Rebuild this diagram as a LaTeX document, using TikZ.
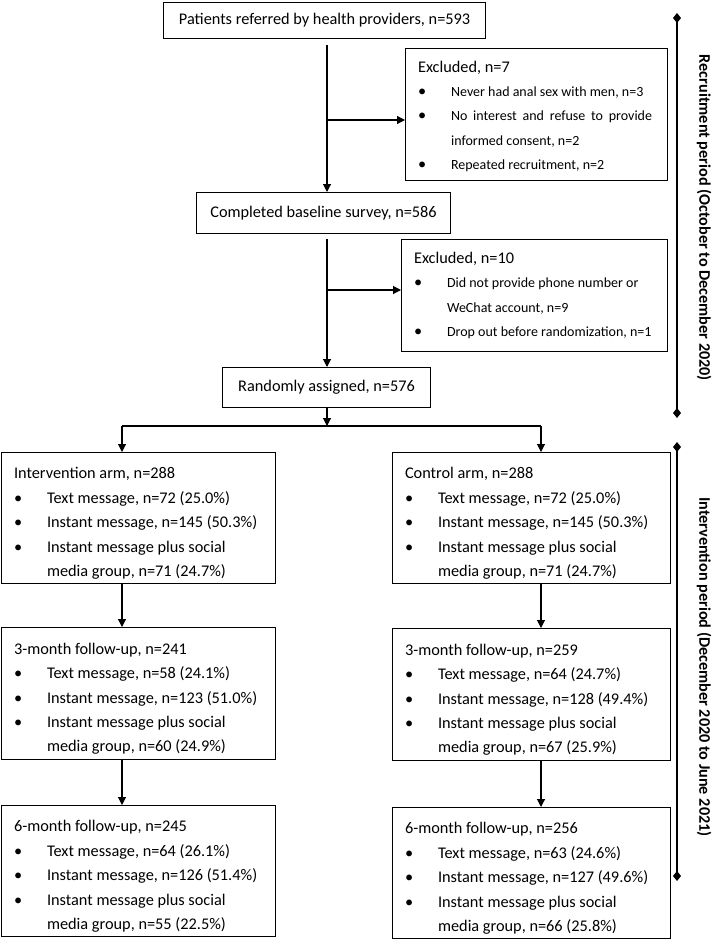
\documentclass[tikz,border=0pt]{standalone}
\usepackage{fontspec}
\setmainfont{Carlito}
\usetikzlibrary{arrows.meta}
\newcommand{\boxfont}{\fontsize{16.3}{24.4}\selectfont}
\newcommand{\exfont}{\fontsize{14}{24.4}\selectfont}
\newcommand{\titlefont}{\fontsize{16.3}{20}\selectfont}
\newcommand{\bul}[1]{\makebox[33pt][l]{{\boxfont\textbullet}}\mbox{#1}}
\newcommand{\ind}[1]{\hspace*{33pt}\mbox{#1}}
\newcommand{\headline}[1]{\rule{0pt}{22pt}#1}
\tikzset{
  box/.style={draw, line width=1.1pt, anchor=north west, inner xsep=12.5pt, inner ysep=0pt, align=flush left, font=\boxfont},
  titlebox/.style={draw, line width=1.1pt, anchor=north west, inner sep=0pt, align=center, font=\titlefont},
  arr/.style={line width=1.1pt, -{Triangle[length=8pt,width=8pt]}},
  bar/.style={line width=1.6pt, {Diamond[length=10pt,width=8pt]}-{Diamond[length=10pt,width=8pt]}},
  period/.style={rotate=-90, font=\fontsize{16.2}{18}\selectfont\bfseries}
}
\begin{document}
\begin{tikzpicture}[x=1pt,y=-1pt]
\useasboundingbox (0,0) rectangle (712,939);
% recruitment
\node[titlebox, minimum width=322pt, minimum height=36pt] (referred) at (163,2) {Patients referred by health providers, n=593};
\node[box, text width=237pt, minimum height=132pt] (excl1) at (405,48) {\rule{0pt}{15pt}Excluded, n=7\\
\exfont\bul{Never had anal sex with men, n=3}\\
\bul{\makebox[201pt][s]{No interest and refuse to provide}}\\
\ind{informed consent, n=2}\\
\bul{Repeated recruitment, n=2}};
\node[titlebox, minimum width=254pt, minimum height=41pt] (baseline) at (196,192) {Completed baseline survey, n=586};
\node[box, text width=241pt, minimum height=112pt] (excl2) at (401,239) {Excluded, n=10\\
\exfont\bul{Did not provide phone number or}\\
\ind{WeChat account, n=9}\\
\bul{Drop out before randomization, n=1}};
\node[titlebox, minimum width=208pt, minimum height=40pt] (random) at (222,367) {Randomly assigned, n=576};
% arms
\node[box, text width=249pt, minimum height=131pt] (armL) at (1,452) {\headline{Intervention arm, n=288}\\
\bul{Text message, n=72 (25.0\%)}\\
\bul{Instant message, n=145 (50.3\%)}\\
\bul{Instant message plus social}\\
\ind{media group, n=71 (24.7\%)}};
\node[box, text width=253pt, minimum height=131pt] (armR) at (392,452) {\headline{Control arm, n=288}\\
\bul{Text message, n=72 (25.0\%)}\\
\bul{Instant message, n=145 (50.3\%)}\\
\bul{Instant message plus social}\\
\ind{media group, n=71 (24.7\%)}};
\node[box, text width=249pt, minimum height=132pt] (threeL) at (1,627) {\headline{3-month follow-up, n=241}\\
\bul{Text message, n=58 (24.1\%)}\\
\bul{Instant message, n=123 (51.0\%)}\\
\bul{Instant message plus social}\\
\ind{media group, n=60 (24.9\%)}};
\node[box, text width=253pt, minimum height=132pt] (threeR) at (392,628) {\headline{3-month follow-up, n=259}\\
\bul{Text message, n=64 (24.7\%)}\\
\bul{Instant message, n=128 (49.4\%)}\\
\bul{Instant message plus social}\\
\ind{media group, n=67 (25.9\%)}};
\node[box, text width=249pt, minimum height=131pt] (sixL) at (1,805) {\headline{6-month follow-up, n=245}\\
\bul{Text message, n=64 (26.1\%)}\\
\bul{Instant message, n=126 (51.4\%)}\\
\bul{Instant message plus social}\\
\ind{media group, n=55 (22.5\%)}};
\node[box, text width=253pt, minimum height=131pt] (sixR) at (392,807) {\headline{6-month follow-up, n=256}\\
\bul{Text message, n=63 (24.6\%)}\\
\bul{Instant message, n=127 (49.6\%)}\\
\bul{Instant message plus social}\\
\ind{media group, n=66 (25.8\%)}};
% connectors
\coordinate (spine) at (327,0);
\coordinate (j1) at (327,120);
\coordinate (j2) at (327,290);
\coordinate (split) at (327,426);
\coordinate (sL) at (122,426);
\coordinate (sR) at (541,426);
\draw[arr, shorten <=6pt] (referred.south -| spine) -- (baseline.north -| spine);
\draw[arr] (j1) -- (j1 -| excl1.west);
\draw[arr, shorten <=5pt] (baseline.south -| spine) -- (random.north -| spine);
\draw[arr] (j2) -- (j2 -| excl2.west);
\draw[arr] (random.south -| split) -- (split);
\draw[line width=1.1pt] (sL) -- (sR);
\draw[arr] (sL) -- (sL |- armL.north);
\draw[arr] (sR) -- (sR |- armR.north);
\draw[arr] (armL.south -| sL) -- (threeL.north -| sL);
\draw[arr] (armR.south -| sR) -- (threeR.north -| sR);
\draw[arr] (threeL.south -| sL) -- (sixL.north -| sL);
\draw[arr] (threeR.south -| sR) -- (sixR.north -| sR);
% periods
\coordinate (rtop) at (677,13);
\coordinate (rbot) at (677,418);
\coordinate (itop) at (677,442);
\coordinate (ibot) at (677,881);
\draw[bar] (rtop) -- (rbot);
\draw[bar] (itop) -- (ibot);
\node[period] (recruit) at (704,218) {Recruitment period (October to December 2020)};
\node[period] (interv) at (704,667) {Intervention period (December 2020 to June 2021)};
\end{tikzpicture}
\end{document}
